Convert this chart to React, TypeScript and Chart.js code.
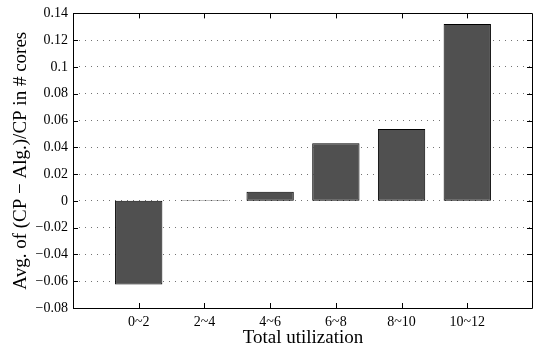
import React, { useEffect, useRef } from "react";
import { Chart, registerables } from "chart.js";

Chart.register(...registerables);

const categories = ["0~2", "2~4", "4~6", "6~8", "8~10", "10~12"];
const values = [-0.0625, 0.0004, 0.0069, 0.043, 0.0536, 0.132];
const yMin = -0.08;
const yMax = 0.14;
const yStep = 0.02;

const fmt = (v: number) => {
  const r = Number(v.toFixed(2));
  if (r === 0) return "0";
  return r < 0 ? "\u2212" + String(Math.abs(r)) : String(r);
};

const frameTicks = {
  id: "frameTicks",
  afterDatasetsDraw(chart: any) {
    const { ctx, chartArea: a, scales } = chart;
    const xs = scales.x;
    const ys = scales.y;
    const len = 5;
    ctx.save();
    ctx.strokeStyle = "#000";
    ctx.lineWidth = 1;
    ctx.beginPath();
    ctx.rect(Math.round(a.left) + 0.5, Math.round(a.top) + 0.5, Math.round(a.right - a.left) - 1, Math.round(a.bottom - a.top));
    ctx.stroke();
    ctx.beginPath();
    categories.forEach((_, i) => {
      const px = Math.round(xs.getPixelForValue(i + 1)) + 0.5;
      ctx.moveTo(px, a.bottom);
      ctx.lineTo(px, a.bottom - len);
      ctx.moveTo(px, a.top);
      ctx.lineTo(px, a.top + len);
    });
    ys.ticks.forEach((t: any) => {
      const py = Math.round(ys.getPixelForValue(t.value)) + 0.5;
      ctx.moveTo(a.left, py);
      ctx.lineTo(a.left + len, py);
      ctx.moveTo(a.right - 1, py);
      ctx.lineTo(a.right - 1 - len, py);
    });
    ctx.stroke();
    ctx.restore();
  },
};

export default function App() {
  const ref = useRef<HTMLCanvasElement>(null);
  useEffect(() => {
    if (!ref.current) return;
    const serif = "'Liberation Serif', 'Times New Roman', serif";
    const chart = new Chart(ref.current, {
      type: "bar",
      data: {
        datasets: [
          {
            data: values.map((v, i) => ({ x: i + 1, y: v })),
            backgroundColor: "#505050",
            borderColor: "#000",
            borderWidth: 1,
            borderSkipped: false,
          },
        ],
      },
      options: {
        animation: false,
        responsive: false,
        devicePixelRatio: 1,
        layout: { padding: { top: 10, right: 0, left: 0, bottom: 0 } },
        plugins: { legend: { display: false }, tooltip: { enabled: false } },
        scales: {
          x: {
            type: "linear",
            min: 0,
            max: 7,
            offset: false,
            afterBuildTicks: (s: any) => {
              s.ticks = categories.map((_, i) => ({ value: i + 1 }));
            },
            afterFit: (s: any) => {
              s.height = 41;
            },
            grid: { display: false, drawTicks: false },
            border: { display: false },
            ticks: {
              autoSkip: false,
              maxRotation: 0,
              padding: 6,
              color: "#000",
              font: { family: serif, size: 14 },
              callback: (v: any) => categories[Math.round(v) - 1] ?? "",
            },
            title: {
              display: true,
              text: "Total utilization",
              color: "#000",
              font: { family: serif, size: 19, lineHeight: 1 },
              padding: { top: 0, bottom: 1 },
            },
          },
          y: {
            min: yMin,
            max: yMax,
            afterFit: (s: any) => {
              s.width = 73;
            },
            grid: { color: "rgba(0,0,0,0.55)", lineWidth: 1, drawTicks: false },
            border: { display: false, dash: [1, 5] },
            ticks: {
              stepSize: yStep,
              padding: 5,
              color: "#000",
              font: { family: serif, size: 14 },
              callback: (v: any) => fmt(Number(v)),
            },
            title: {
              display: true,
              text: "Avg. of (CP \u2212 Alg.)/CP in # cores",
              color: "#000",
              font: { family: serif, size: 19, lineHeight: 1 },
              padding: { top: 12, bottom: 0 },
            },
          },
        },
      },
      plugins: [frameTicks],
    });
    return () => chart.destroy();
  }, []);
  return (
    <canvas
      ref={ref}
      width={533}
      height={349}
      style={{ position: "absolute", left: 0, top: 0, width: 533, height: 349 }}
    />
  );
}
